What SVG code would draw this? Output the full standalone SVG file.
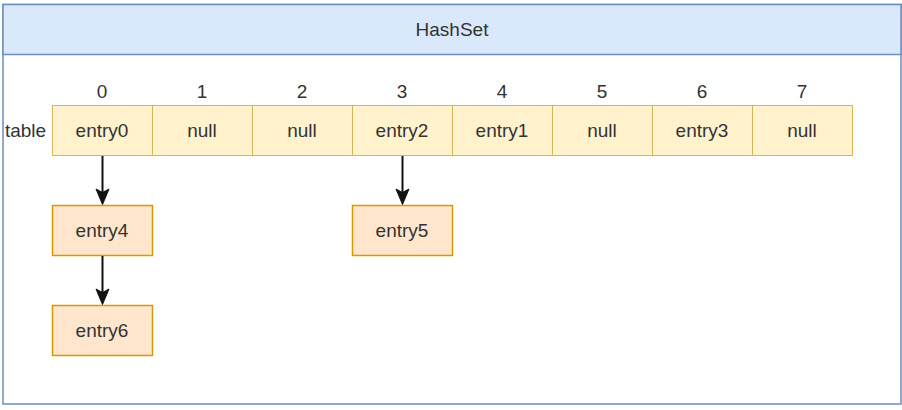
<svg xmlns="http://www.w3.org/2000/svg" width="902" height="410" viewBox="0 0 902 410">
<style>
text{font-family:"Liberation Sans",Arial,sans-serif;font-size:19px;fill:#333;text-anchor:middle}
.cell{fill:#fff2cc;stroke:#d6b656;stroke-width:1}
.node{fill:#ffe6cc;stroke:#d79b00;stroke-width:1.5}
.edge{stroke:#111;stroke-width:2;fill:none}
.head{fill:#111;stroke:#111;stroke-width:1}
</style>
<rect width="902" height="410" fill="#ffffff"/>
<g id="hashset">
<rect x="3" y="4.5" width="898" height="399.5" fill="#ffffff" stroke="#6c8ebf" stroke-width="1.5"/>
<rect x="3" y="4.5" width="898" height="50" fill="#dae8fc" stroke="#6c8ebf" stroke-width="1.5"/>
<text x="452" y="36">HashSet</text>
</g>
<g id="labels">
<text x="25.5" y="136.8">table</text>
<text x="102" y="98">0</text>
<text x="202" y="98">1</text>
<text x="302" y="98">2</text>
<text x="402" y="98">3</text>
<text x="502" y="98">4</text>
<text x="602" y="98">5</text>
<text x="702" y="98">6</text>
<text x="802" y="98">7</text>
</g>
<g id="cell0"><rect class="cell" x="52.5" y="105.5" width="100" height="50"/><text x="102" y="136.8">entry0</text></g>
<g id="cell1"><rect class="cell" x="152.5" y="105.5" width="100" height="50"/><text x="202" y="136.8">null</text></g>
<g id="cell2"><rect class="cell" x="252.5" y="105.5" width="100" height="50"/><text x="302" y="136.8">null</text></g>
<g id="cell3"><rect class="cell" x="352.5" y="105.5" width="100" height="50"/><text x="402" y="136.8">entry2</text></g>
<g id="cell4"><rect class="cell" x="452.5" y="105.5" width="100" height="50"/><text x="502" y="136.8">entry1</text></g>
<g id="cell5"><rect class="cell" x="552.5" y="105.5" width="100" height="50"/><text x="602" y="136.8">null</text></g>
<g id="cell6"><rect class="cell" x="652.5" y="105.5" width="100" height="50"/><text x="702" y="136.8">entry3</text></g>
<g id="cell7"><rect class="cell" x="752.5" y="105.5" width="100" height="50"/><text x="802" y="136.8">null</text></g>
<g id="entry4"><rect class="node" x="52.5" y="205.5" width="100" height="50"/><text x="102" y="236.8">entry4</text></g>
<g id="entry6"><rect class="node" x="52.5" y="305.5" width="100" height="50"/><text x="102" y="336.8">entry6</text></g>
<g id="entry5"><rect class="node" x="352.5" y="205.5" width="100" height="50"/><text x="402" y="236.8">entry5</text></g>
<g id="connectors">
<line class="edge" x1="102.5" y1="156" x2="102.5" y2="194"/>
<path class="head" d="M102.5,204.5 L96,189 L102.5,192.5 L109,189 Z"/>
<line class="edge" x1="102.5" y1="256" x2="102.5" y2="294"/>
<path class="head" d="M102.5,304.5 L96,289 L102.5,292.5 L109,289 Z"/>
<line class="edge" x1="402.5" y1="156" x2="402.5" y2="194"/>
<path class="head" d="M402.5,204.5 L396,189 L402.5,192.5 L409,189 Z"/>
</g>
</svg>
